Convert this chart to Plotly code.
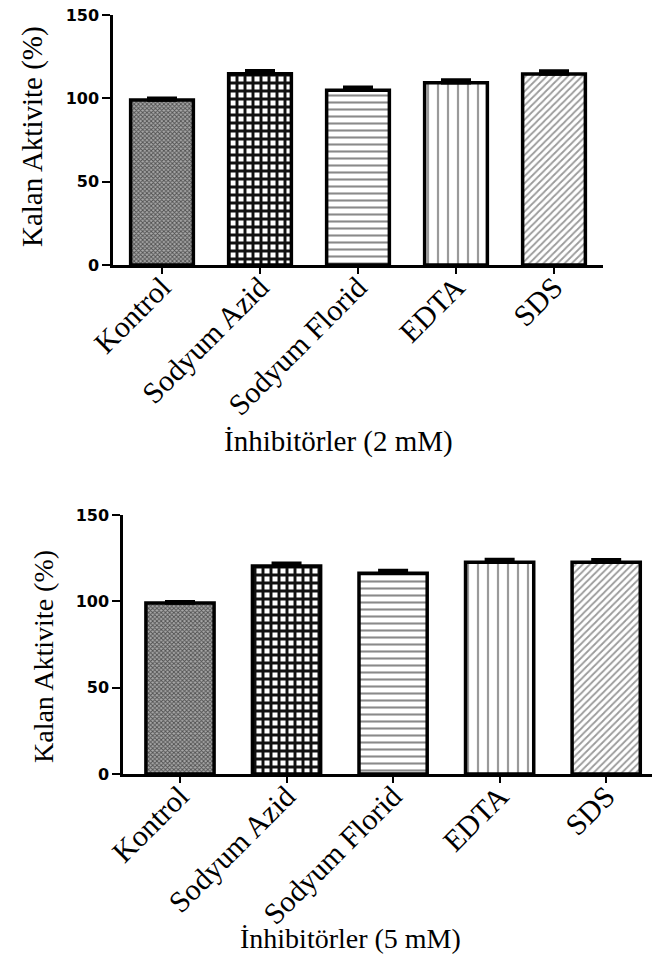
import plotly.graph_objects as go

# Inhibitor categories and residual activity (%) with standard deviations
categories = ["Kontrol", "Sodyum Azid", "Sodyum Florid", "EDTA", "SDS"]
activity_2mM = [99, 114.8, 104.8, 109.4, 114.6]
error_2mM = [1.0, 1.8, 1.8, 1.6, 1.8]
activity_5mM = [99, 120.5, 116.3, 122.7, 122.7]
error_5mM = [0.8, 1.6, 1.6, 1.6, 1.4]
y_ticks = [0, 50, 100, 150]

# Fill pattern per inhibitor: (shape, size, solidity, fg colour, bg colour)
patterns = [
    ("x", 3, 0.5, "#505050", "#a8a8a8"),
    ("+", 8, 0.6, "#111111", "#ffffff"),
    ("-", 7, 0.3, "#8a8a8a", "#ffffff"),
    ("|", 10, 0.22, "#9a9a9a", "#ffffff"),
    ("/", 5, 0.35, "#9a9a9a", "#ffffff"),
]

W, H = 652, 957
serif = "Liberation Serif, Times New Roman, serif"
sans_bold = "DejaVu Sans, Arial, sans-serif"

fig = go.Figure()


def add_panel(values, errors, xref, yref):
    for i, (cat, v, e) in enumerate(zip(categories, values, errors)):
        shape, size, sol, fg, bg = patterns[i]
        fig.add_trace(go.Bar(
            x=[cat], y=[v], xaxis=xref, yaxis=yref,
            width=0.64,
            marker=dict(
                color=bg,
                line=dict(color="#000000", width=3.5),
                pattern=dict(shape=shape, size=size, solidity=sol,
                             fgcolor=fg, bgcolor=bg, fillmode="replace"),
            ),
            error_y=dict(type="data", array=[e], arrayminus=[0],
                         symmetric=False, color="#000000",
                         thickness=3.5, width=15),
            showlegend=False, hoverinfo="skip",
        ))


add_panel(activity_2mM, error_2mM, "x", "y")
add_panel(activity_5mM, error_5mM, "x2", "y2")

axis_common = dict(
    showline=True, linecolor="#000000", linewidth=2.5,
    showgrid=False, zeroline=False, automargin=False,
)

x_common = dict(
    axis_common,
    type="category",
    categoryorder="array", categoryarray=categories,
    ticks="outside", ticklen=6, tickwidth=2, tickcolor="#000000",
    tickangle=-45, ticklabelstandoff=-16,
    tickfont=dict(family=serif, size=30, color="#000000"),
)

y_common = dict(
    axis_common,
    range=[0, 150],
    tickvals=y_ticks,
    ticks="outside", ticklen=8, tickwidth=2, tickcolor="#000000",
    tickfont=dict(family=sans_bold, size=16, color="#000000", weight="bold"),
)

fig.update_layout(
    width=W, height=H,
    margin=dict(l=0, r=0, t=0, b=0),
    paper_bgcolor="#ffffff", plot_bgcolor="#ffffff",
    xaxis=dict(x_common, domain=[113 / W, 603 / W], range=[-0.5, 4.5],
               anchor="y"),
    yaxis=dict(y_common, domain=[1 - 265 / H, 1 - 15 / H], anchor="x"),
    xaxis2=dict(x_common, domain=[123 / W, 1.0], range=[-0.535, 4.43],
                anchor="y2"),
    yaxis2=dict(y_common, domain=[1 - 774 / H, 1 - 515 / H], anchor="x2"),
    annotations=[
        dict(text="Kalan Aktivite (%)", textangle=-90, showarrow=False,
             xref="paper", yref="paper", x=32 / W, y=1 - 137 / H,
             xanchor="center", yanchor="middle",
             font=dict(family=serif, size=29, color="#000000")),
        dict(text="İnhibitörler (2 mM)", showarrow=False,
             xref="paper", yref="paper", x=338 / W, y=1 - 441 / H,
             xanchor="center", yanchor="middle",
             font=dict(family=serif, size=29, color="#000000")),
        dict(text="Kalan Aktivite (%)", textangle=-90, showarrow=False,
             xref="paper", yref="paper", x=43 / W, y=1 - 657 / H,
             xanchor="center", yanchor="middle",
             font=dict(family=serif, size=28, color="#000000")),
        dict(text="İnhibitörler (5 mM)", showarrow=False,
             xref="paper", yref="paper", x=350 / W, y=1 - 938 / H,
             xanchor="center", yanchor="middle",
             font=dict(family=serif, size=28, color="#000000")),
    ],
)

# Remove the default page margin so the figure sits at the window origin
fig.write_html(
    "out.html",
    post_script="document.body.style.margin='0';document.body.style.overflow='hidden';",
)
